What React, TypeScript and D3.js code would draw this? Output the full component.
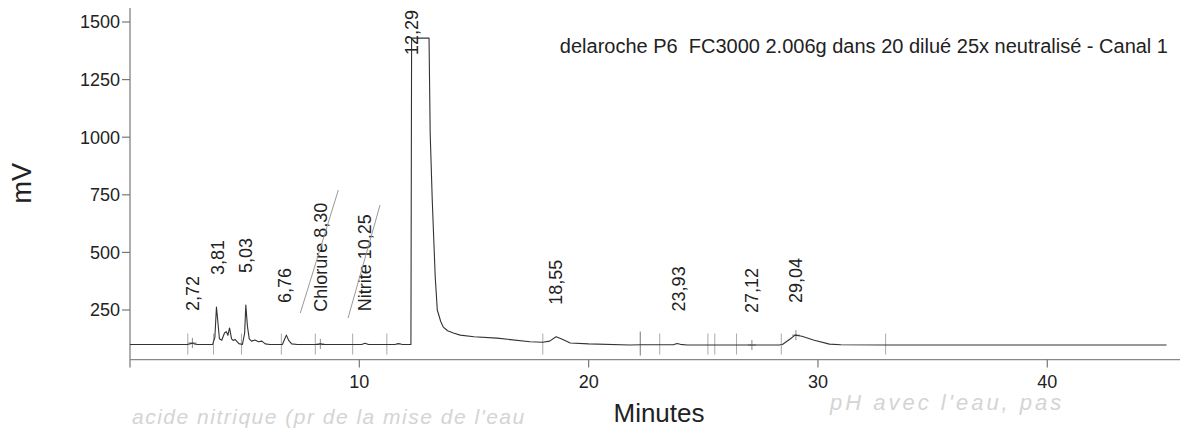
import React from "react";
import * as d3 from "d3";

// chromatogram trace (minutes, mV)
const times = [
  0, 2.5, 2.65, 2.72, 2.8, 2.95, 3.6, 3.7, 3.77, 3.83, 3.9, 4.0, 4.12, 4.2, 4.27, 4.34, 4.43, 4.5, 4.58, 4.75, 4.9,
  5.0, 5.05, 5.12, 5.2, 5.3, 5.45, 5.6, 5.75, 5.9, 6.1, 6.65, 6.75, 6.82, 6.92, 7.05, 7.3, 8.2, 8.3, 8.4, 10.1,
  10.25, 10.4, 11.55, 11.7, 11.85, 12.2, 12.25, 12.28, 13.04, 13.09, 13.18, 13.31, 13.4, 13.55, 13.66, 13.85, 14.1,
  14.4, 15.0, 16.0, 17.45, 18.0, 18.3, 18.58, 18.8, 19.2, 20.0, 21.8, 22.3, 23.7, 23.85, 24.0, 24.3, 27.1, 28.3,
  28.45, 28.8, 29.0, 29.3, 29.8, 30.5, 31.0, 33.0, 45.2,
];
const mv = [
  100, 100, 104, 107, 103, 100, 100, 130, 263, 200, 125, 119, 150, 156, 140, 172, 125, 118, 122, 104, 100,
  150, 272, 180, 125, 115, 120, 112, 115, 103, 100, 101, 125, 141, 118, 103, 100, 100, 103, 100, 100,
  106, 100, 100, 104, 101, 100, 100, 1430, 1430, 1018, 727, 393, 250, 200, 176, 160, 150,
  141, 134, 128, 112, 110, 115, 134, 125, 107, 103, 98, 99, 99, 105, 101, 98, 98, 98,
  100, 125, 141, 136, 120, 102, 99, 98, 98,
];

// peak labels
const peakTimes = [2.72, 3.81, 5.03, 6.76, 8.3, 10.25, 12.29, 18.55, 23.93, 27.12, 29.04];
const peakNames = ["2,72", "3,81", "5,03", "6,76", "Chlorure 8,30", "Nitrite 10,25", "12,29", "18,55", "23,93", "27,12", "29,04"];

// integration marks (minutes)
const markTimes = [2.52, 3.64, 4.86, 6.6, 8.08, 9.71, 11.2, 18.0, 22.25, 23.1, 25.2, 25.5, 26.45, 28.4, 32.95];
const longMarks = [22.25];
const crossTimes = [2.72, 8.3, 27.12, 29.04];

const yTicks = [250, 500, 750, 1000, 1250, 1500];
const xTicks = [10, 20, 30, 40];

const title = "delaroche P6  FC3000 2.006g dans 20 dilué 25x neutralisé - Canal 1";
const noteLeft = "acide nitrique (pr de la mise de l'eau";
const noteRight = "pH avec l'eau, pas";

const W = 1180;
const H = 429;
const FONT = "'Liberation Sans', Arial, sans-serif";

export default function App() {
  const x = d3.scaleLinear().domain([0, 45.7]).range([130, 1178]);
  const y = d3.scaleLinear().domain([0, 1500]).range([367.6, 22]);
  const pts: [number, number][] = times.map((t, i) => [t, mv[i]]);
  const line = d3
    .line<[number, number]>()
    .x((d) => x(d[0]))
    .y((d) => y(d[1]));
  const interp = (t: number) => {
    let best = 0;
    for (let i = 0; i < times.length; i++) {
      if (Math.abs(times[i] - t) < 0.2) best = Math.max(best, mv[i]);
    }
    if (best === 0) {
      const i = d3.bisectLeft(times, t);
      best = mv[Math.min(i, mv.length - 1)];
    }
    return best;
  };
  const baseY = y(100);
  const axisY = y(35);

  return (
    <svg width={W} height={H} style={{ display: "block", position: "absolute", left: 0, top: 0, background: "#fff" }}>
      <rect x={0} y={0} width={W} height={H} fill="#fff" />
      {/* handwritten notes */}
      <text x={132} y={424} fontFamily={FONT} fontSize={21} fontStyle="italic" fill="#d4d4d4" letterSpacing={1.5}>
        {noteLeft}
      </text>
      <text x={830} y={410} fontFamily={FONT} fontSize={22} fontStyle="italic" fill="#d4d4d4" letterSpacing={3}>
        {noteRight}
      </text>
      {/* y axis */}
      <line x1={130} x2={130} y1={y(1561)} y2={y(0)} stroke="#777" strokeWidth={1.2} />
      {yTicks.map((v) => (
        <g key={v}>
          <line x1={122} x2={130} y1={y(v)} y2={y(v)} stroke="#777" strokeWidth={1.2} />
          <text x={120} y={y(v)} dy="0.35em" textAnchor="end" fontFamily={FONT} fontSize={18} fill="#222">
            {v}
          </text>
        </g>
      ))}
      <text
        transform={`translate(22,${y(800)}) rotate(-90)`}
        dy="0.35em"
        textAnchor="middle"
        fontFamily={FONT}
        fontSize={27}
        fill="#222"
      >
        mV
      </text>
      {/* x axis */}
      <line x1={130} x2={1180} y1={axisY} y2={axisY} stroke="#888" strokeWidth={1.2} />
      {xTicks.map((t) => (
        <g key={t}>
          <line x1={x(t)} x2={x(t)} y1={axisY} y2={axisY + 8} stroke="#777" strokeWidth={1.2} />
          <text x={x(t)} y={axisY + 22} dy="0.35em" textAnchor="middle" fontFamily={FONT} fontSize={18} fill="#222">
            {t}
          </text>
        </g>
      ))}
      <text x={659} y={422} textAnchor="middle" fontFamily={FONT} fontSize={26} fill="#222">
        Minutes
      </text>
      {/* integration marks */}
      {markTimes.map((t) => {
        const long = longMarks.includes(t);
        return (
          <line
            key={t}
            x1={x(t)}
            x2={x(t)}
            y1={baseY - (long ? 13 : 11)}
            y2={baseY + (long ? 11 : 10)}
            stroke={long ? "#777" : "#aaa"}
            strokeWidth={1}
          />
        );
      })}
      {crossTimes.map((t) => {
        const py = y(interp(t));
        return (
          <g key={"c" + t}>
            <line x1={x(t)} x2={x(t)} y1={py - 5} y2={py + 5} stroke="#888" strokeWidth={1} />
            <line x1={x(t) - 4} x2={x(t) + 4} y1={py} y2={py} stroke="#888" strokeWidth={1} />
          </g>
        );
      })}
      {/* trace */}
      <path d={line(pts) || ""} fill="none" stroke="#333" strokeWidth={1.1} strokeLinejoin="round" />
      {/* peak labels */}
      {peakTimes.map((t, i) => {
        const px = x(t);
        const pyb = Math.max(y(interp(t)) - 32, 55);
        return (
          <text
            key={t}
            transform={`translate(${px},${pyb}) rotate(-90)`}
            dy="0.35em"
            fontFamily={FONT}
            fontSize={18}
            fill="#222"
          >
            {peakNames[i]}
          </text>
        );
      })}
      {/* pen strokes under Chlorure / Nitrite labels */}
      <line x1={x(8.3) - 20} y1={313} x2={x(8.3) + 18} y2={190} stroke="#999" strokeWidth={1} />
      <line x1={x(10.25) - 17} y1={318} x2={x(10.25) + 15} y2={205} stroke="#999" strokeWidth={1} />
      {/* title */}
      <text
        x={1168}
        y={53}
        textAnchor="end"
        fontFamily={FONT}
        fontSize={20}
        fill="#222"
        style={{ whiteSpace: "pre" }}
      >
        {title}
      </text>
    </svg>
  );
}
